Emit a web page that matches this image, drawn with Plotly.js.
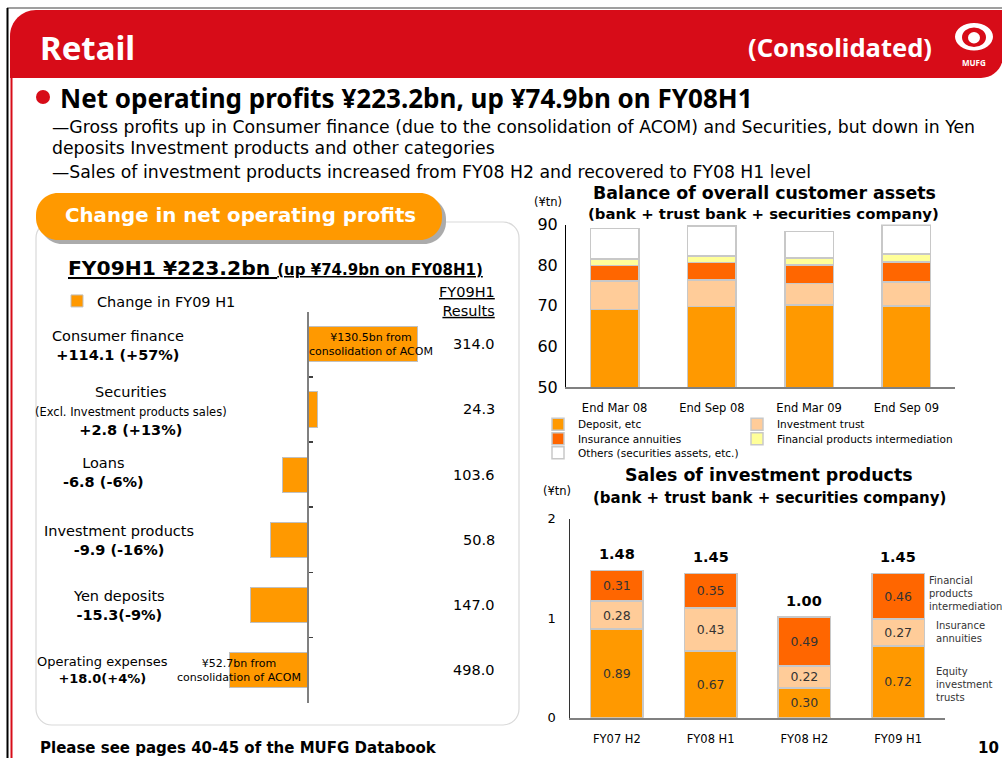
<!DOCTYPE html>
<html><head><meta charset="utf-8">
<script src="https://cdn.plot.ly/plotly-3.0.1.min.js"></script>
<style>html,body{margin:0;padding:0;background:#fff;overflow:hidden}#chart{width:1002px;height:758px}</style>
</head><body><div id="chart"></div>
<script>
// ---------------- DATA ----------------
const changeCategories = ['Consumer finance','Securities','Loans','Investment products','Yen deposits','Operating expenses'];
const changeSubLabels = ['','(Excl. Investment products sales)','','','',''];
const changeLabels = ['+114.1 (+57%)','+2.8 (+13%)','-6.8 (-6%)','-9.9 (-16%)','-15.3(-9%)','+18.0(+4%)'];
// bar lengths as drawn in the picture (impact on net operating profits)
const changeBarLengths = [29.2, 2.5, -6.8, -9.9, -15.3, -21.0];
const fy09h1Results = ['314.0','24.3','103.6','50.8','147.0','498.0'];
const barNotes = ['¥130.5bn from<br>consolidation of ACOM','','','','','¥52.7bn from<br>consolidation of ACOM'];

const assetPeriods = ['End Mar 08','End Sep 08','End Mar 09','End Sep 09'];
const assetDeposit = [69.1, 69.8, 70.2, 69.9];
const assetInvTrust = [7.0, 6.6, 5.3, 5.9];
const assetInsurance = [3.8, 4.2, 4.5, 5.0];
const assetFinProducts = [1.6, 1.7, 1.8, 2.0];
const assetOthers = [7.5, 7.3, 6.5, 7.1];

const salesPeriods = ['FY07 H2','FY08 H1','FY08 H2','FY09 H1'];
const salesEquityTrusts = [0.89, 0.67, 0.30, 0.72];
const salesInsurance = [0.28, 0.43, 0.22, 0.27];
const salesFinProducts = [0.31, 0.35, 0.49, 0.46];
const salesTotals = ['1.48','1.45','1.00','1.45'];

// ---------------- LAYOUT HELPERS ----------------
const W = 1002, H = 758;
const X = p => p / W;
const Y = p => 1 - p / H;
const DV = 'DejaVu Sans, Verdana, sans-serif';
const NS = 'Noto Sans, Tahoma, sans-serif';
const ORANGE = '#FF9900', PEACH = '#FFCC99', DARKOR = '#FF6600', LYELLOW = '#FFFF99', RED = '#D70C18';

function rr(x0, y0, x1, y1, r) {
  const k = 0.5523, [tl, tr, br, bl] = r;
  const P = (x, y) => X(x).toFixed(5) + ',' + Y(y).toFixed(5);
  const p = [];
  p.push('M' + P(x0 + tl, y0));
  p.push('L' + P(x1 - tr, y0));
  if (tr) p.push('C' + P(x1 - tr + tr * k, y0) + ' ' + P(x1, y0 + tr - tr * k) + ' ' + P(x1, y0 + tr));
  p.push('L' + P(x1, y1 - br));
  if (br) p.push('C' + P(x1, y1 - br + br * k) + ' ' + P(x1 - br + br * k, y1) + ' ' + P(x1 - br, y1));
  p.push('L' + P(x0 + bl, y1));
  if (bl) p.push('C' + P(x0 + bl - bl * k, y1) + ' ' + P(x0, y1 - bl + bl * k) + ' ' + P(x0, y1 - bl));
  p.push('L' + P(x0, y0 + tl));
  if (tl) p.push('C' + P(x0, y0 + tl - tl * k) + ' ' + P(x0 + tl - tl * k, y0) + ' ' + P(x0 + tl, y0));
  p.push('Z');
  return p.join(' ');
}

// ---------------- TRACES ----------------
const traces = [];
traces.push({
  type: 'bar', orientation: 'h', y: changeCategories, x: changeBarLengths,
  xaxis: 'x', yaxis: 'y', width: 0.54, name: 'Change in FY09 H1', legend: 'legend',
  marker: {color: ORANGE, line: {color: '#C0C0C0', width: 1}}, hoverinfo: 'skip'
});

const assetSeries = [
  {name: 'Deposit, etc', y: assetDeposit, color: ORANGE, legend: 'legend2'},
  {name: 'Investment trust', y: assetInvTrust, color: PEACH, legend: 'legend3'},
  {name: 'Insurance annuities', y: assetInsurance, color: DARKOR, legend: 'legend4'},
  {name: 'Financial products intermediation', y: assetFinProducts, color: LYELLOW, legend: 'legend5'},
  {name: 'Others (securities assets, etc.)', y: assetOthers, color: '#FFFFFF', legend: 'legend6'}
];
assetSeries.forEach(s => traces.push({
  type: 'bar', x: assetPeriods, y: s.y, name: s.name, xaxis: 'x2', yaxis: 'y2', width: 0.5,
  legend: s.legend, marker: {color: s.color, line: {color: '#C8C8C8', width: 1.5}}, hoverinfo: 'skip'
}));

const salesSeries = [
  {name: 'Equity investment trusts', y: salesEquityTrusts, color: ORANGE},
  {name: 'Insurance annuities', y: salesInsurance, color: PEACH},
  {name: 'Financial products intermediation', y: salesFinProducts, color: DARKOR}
];
salesSeries.forEach(s => traces.push({
  type: 'bar', x: salesPeriods, y: s.y, name: s.name, xaxis: 'x3', yaxis: 'y3', width: 0.56,
  showlegend: false, marker: {color: s.color, line: {color: '#C8C8C8', width: 1.5}},
  texttemplate: '%{y:.2f}', textposition: 'inside', insidetextanchor: 'middle', textangle: 0,
  textfont: {family: DV, size: 12.5, color: '#333333'}, hoverinfo: 'skip'
}));

// ---------------- SHAPES ----------------
const shapes = [
  {type: 'line', xref: 'paper', yref: 'paper', x0: X(7), x1: X(1002), y0: Y(8), y1: Y(8), line: {color: '#7F7F7F', width: 1.5}},
  {type: 'line', xref: 'paper', yref: 'paper', x0: X(7.5), x1: X(7.5), y0: Y(8), y1: Y(758), line: {color: '#000000', width: 2}},
  {type: 'path', xref: 'paper', yref: 'paper', path: rr(10, 10, 1003, 78, [26, 0, 22, 0]), fillcolor: RED, line: {width: 0}},
  {type: 'line', xref: 'paper', yref: 'paper', x0: X(11.5), x1: X(11.5), y0: Y(78), y1: Y(758), line: {color: RED, width: 2}},
  {type: 'circle', xref: 'paper', yref: 'paper', x0: X(955), x1: X(993), y0: Y(50.5), y1: Y(23), fillcolor: '#FFFFFF', line: {width: 0}},
  {type: 'circle', xref: 'paper', yref: 'paper', x0: X(962), x1: X(986), y0: Y(47), y1: Y(27.5), fillcolor: RED, line: {width: 0}},
  {type: 'circle', xref: 'paper', yref: 'paper', x0: X(968), x1: X(980), y0: Y(43.5), y1: Y(32), fillcolor: '#FFFFFF', line: {width: 0}},
  {type: 'circle', xref: 'paper', yref: 'paper', x0: X(36), x1: X(50), y0: Y(104), y1: Y(90), fillcolor: RED, line: {width: 0}},
  {type: 'path', xref: 'paper', yref: 'paper', path: rr(36, 222, 519, 725, [16, 16, 16, 16]), fillcolor: '#FFFFFF', line: {color: '#D9D9D9', width: 1.2}, layer: 'below'},
  {type: 'path', xref: 'paper', yref: 'paper', path: rr(40, 197, 446, 244, [22, 22, 22, 22]), fillcolor: '#ABABAB', line: {width: 0}, layer: 'below'},
  {type: 'path', xref: 'paper', yref: 'paper', path: rr(36, 193, 442, 240, [22, 22, 22, 22]), fillcolor: ORANGE, line: {width: 0}, layer: 'below'}
];

// ---------------- ANNOTATIONS ----------------
const ann = [];
function T(text, x, y, opts) {
  ann.push(Object.assign({text: text, x: X(x), y: Y(y), xref: 'paper', yref: 'paper', showarrow: false,
    xanchor: 'left', yanchor: 'middle', font: {family: DV, size: 14, color: '#000'}}, opts || {}));
}
T('<b>Retail</b>', 38, 47, {font: {family: NS, size: 33, color: '#fff'}});
T('<b>(Consolidated)</b>', 934, 47, {xanchor: 'right', font: {family: NS, size: 25.5, color: '#fff'}});
T('<b>MUFG</b>', 974, 62, {xanchor: 'center', font: {family: NS, size: 8, color: '#fff'}});
T('<b>Net operating profits ¥223.2bn, up ¥74.9bn on FY08H1</b>', 58, 98, {font: {family: NS, size: 26, color: '#000'}});
T('—Gross profits up in Consumer finance (due to the consolidation of ACOM) and Securities, but down in Yen', 50, 127, {font: {family: DV, size: 17.3, color: '#000'}});
T('deposits Investment products and other categories', 50, 148, {font: {family: DV, size: 17.3, color: '#000'}});
T('—Sales of investment products increased from FY08 H2 and recovered to FY08 H1 level', 50, 172, {font: {family: DV, size: 17.3, color: '#000'}});

T('<b>Change in net operating profits</b>', 240, 215, {xanchor: 'center', font: {family: DV, size: 19.8, color: '#fff'}});
T('<u><b>FY09H1 ¥223.2bn <span style="font-size:15px">(up ¥74.9bn on FY08H1)</span></b></u>', 66, 268, {font: {family: DV, size: 20.3, color: '#000'}});
T('<u>FY09H1</u><br><u>Results</u>', 497, 301, {xanchor: 'right', align: 'right', font: {family: DV, size: 14.5, color: '#000'}});

const labelCenterX = [118, 131, 103.5, 119, 118.5, 102.7];
const labelShift = [-1, -2, 2, -1, -1, 0];
changeCategories.forEach((c, i) => {
  const small = i === 5;
  let txt = c + '<br>' + (changeSubLabels[i] ? '<span style="font-size:11.5px">' + changeSubLabels[i] + '</span><br>' : '') + '<b>' + changeLabels[i] + '</b>';
  ann.push({text: txt, xref: 'paper', yref: 'y', x: X(labelCenterX[i]), y: c, yshift: labelShift[i], showarrow: false,
    xanchor: 'center', yanchor: 'middle', align: 'center', font: {family: DV, size: small ? 13 : 14.5, color: '#000'}});
  ann.push({text: fy09h1Results[i], xref: 'paper', yref: 'y', x: X(497), y: c, showarrow: false,
    xanchor: 'right', yanchor: 'middle', font: {family: DV, size: 14.5, color: '#000'}});
  if (barNotes[i]) {
    ann.push({text: barNotes[i], xref: 'paper', yref: 'y', x: X(i === 0 ? 371 : 239), y: c, showarrow: false,
      xanchor: 'center', yanchor: 'middle', align: 'center', font: {family: DV, size: 11, color: '#000'}});
  }
});

T('<b>Please see pages 40-45 of the MUFG Databook</b>', 38, 748, {font: {family: DV, size: 15, color: '#000'}});
T('<b>10</b>', 1001, 748, {xanchor: 'right', font: {family: DV, size: 15, color: '#000'}});

// chart 2 titles
T('<b>Balance of overall customer assets</b>', 764, 192.5, {xanchor: 'center', font: {family: DV, size: 17.4, color: '#000'}});
T('<b>(bank + trust bank + securities company)</b>', 763.5, 213.5, {xanchor: 'center', font: {family: DV, size: 14.9, color: '#000'}});
T('(¥tn)', 547.5, 201.5, {xanchor: 'center', font: {family: DV, size: 11.5, color: '#000'}});
// chart 3 titles
T('<b>Sales of investment products</b>', 769, 475, {xanchor: 'center', font: {family: DV, size: 17.4, color: '#000'}});
T('<b>(bank + trust bank + securities company)</b>', 769, 498, {xanchor: 'center', font: {family: DV, size: 15, color: '#000'}});
T('(¥tn)', 557, 491, {xanchor: 'center', font: {family: DV, size: 11.5, color: '#000'}});
// chart 3 side labels
T('Financial<br>products<br>intermediation', 927, 593, {align: 'left', font: {family: DV, size: 10, color: '#333'}});
T('Insurance<br>annuities', 934, 631.5, {align: 'left', font: {family: DV, size: 10, color: '#333'}});
T('Equity<br>investment<br>trusts', 934, 684, {align: 'left', font: {family: DV, size: 10, color: '#333'}});
// chart 3 totals
salesPeriods.forEach((p, i) => {
  const tot = salesEquityTrusts[i] + salesInsurance[i] + salesFinProducts[i];
  ann.push({text: '<b>' + salesTotals[i] + '</b>', xref: 'x3', yref: 'y3', x: p, y: tot, yshift: 6, showarrow: false,
    xanchor: 'center', yanchor: 'bottom', font: {family: DV, size: 14.5, color: '#000'}});
});

// ---------------- LEGENDS ----------------
const legBase = {bgcolor: 'rgba(0,0,0,0)', borderwidth: 0, xanchor: 'left', yanchor: 'middle', orientation: 'h', traceorder: 'normal'};
const leg = (x, y, size) => Object.assign({}, legBase, {x: X(x), y: Y(y), font: {family: DV, size: size, color: '#000'}});

const layout = {
  width: W, height: H, margin: {l: 0, r: 0, t: 0, b: 0},
  paper_bgcolor: '#FFFFFF', plot_bgcolor: 'rgba(0,0,0,0)',
  barmode: 'stack', hovermode: false, showlegend: true,
  font: {family: DV, color: '#000'},
  xaxis: {domain: [X(200), X(440)], range: [(200 - 308) / 3.74, (440 - 308) / 3.74], anchor: 'y',
    visible: false, fixedrange: true},
  yaxis: {domain: [Y(702.7), Y(311.7)], type: 'category', range: [5.5, -0.5], anchor: 'free', position: X(308),
    showline: true, linecolor: '#808080', linewidth: 2, ticks: 'inside', tickson: 'boundaries', ticklen: 4,
    tickcolor: '#404040', tickwidth: 1.5, showticklabels: false, showgrid: false, zeroline: false, fixedrange: true},
  xaxis2: {domain: [X(566), X(955)], range: [-0.5, 3.5], anchor: 'y2', type: 'category', showline: true,
    linecolor: '#808080', linewidth: 2, ticks: '', showgrid: false, zeroline: false,
    tickfont: {family: DV, size: 11.5, color: '#000'}, ticklabelstandoff: 9, fixedrange: true},
  yaxis2: {domain: [Y(387), Y(224.5)], range: [50, 90], dtick: 10, anchor: 'x2', showline: true, linecolor: '#000',
    linewidth: 1, ticks: '', showgrid: false, zeroline: false, tickfont: {family: DV, size: 16, color: '#000'},
    ticklabelstandoff: 4, fixedrange: true},
  xaxis3: {domain: [X(570), X(945)], range: [-0.5, 3.5], anchor: 'y3', type: 'category', showline: true,
    linecolor: '#808080', linewidth: 2, ticks: '', showgrid: false, zeroline: false,
    tickfont: {family: DV, size: 11.5, color: '#000'}, ticklabelstandoff: 9, fixedrange: true},
  yaxis3: {domain: [Y(717.7), Y(518.5)], range: [0, 2], dtick: 1, anchor: 'x3', showline: true, linecolor: '#333',
    linewidth: 1.5, ticks: '', showgrid: false, zeroline: false, tickfont: {family: DV, size: 13, color: '#000'},
    ticklabelstandoff: 10, fixedrange: true},
  legend: leg(57, 301, 14.5),
  legend2: leg(538, 424.3, 10.5),
  legend3: leg(737, 424.3, 10.5),
  legend4: leg(538, 438.7, 10.5),
  legend5: leg(737, 438.7, 10.5),
  legend6: leg(538, 452.7, 10.5),
  shapes: shapes,
  annotations: ann
};

Plotly.newPlot('chart', traces, layout, {staticPlot: true, displayModeBar: false});
</script></body></html>
